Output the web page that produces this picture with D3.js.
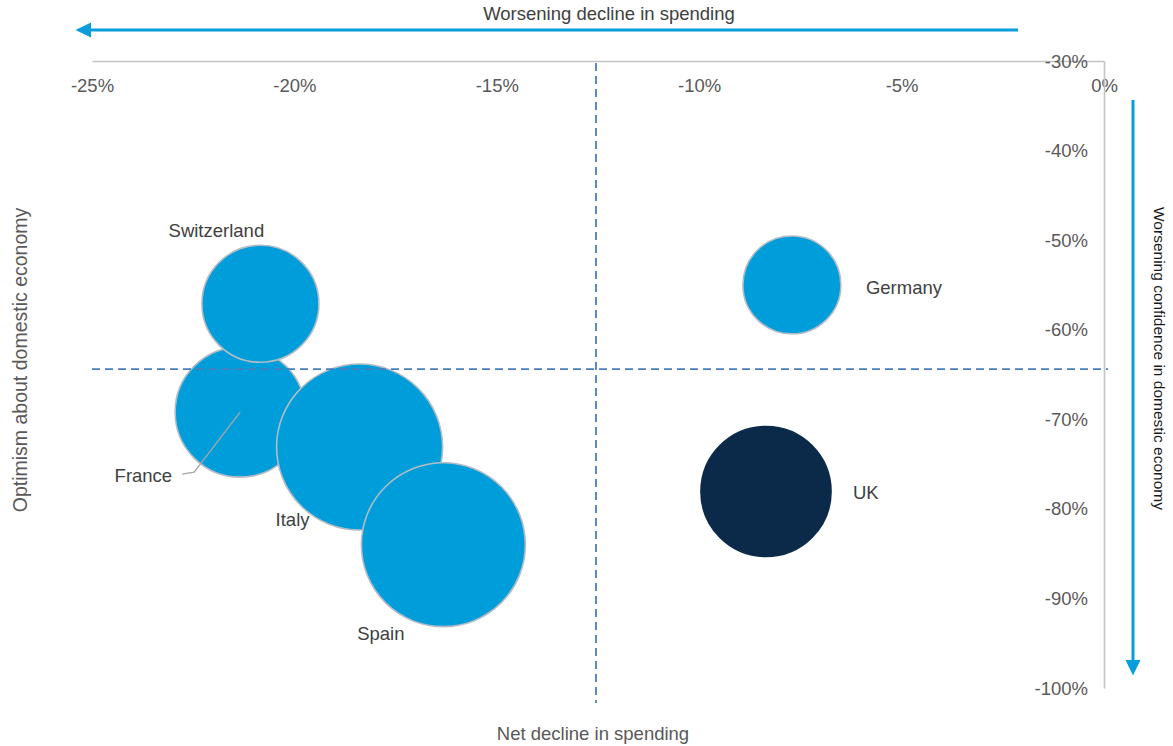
<!DOCTYPE html>
<html>
<head>
<meta charset="utf-8">
<script src="https://cdn.jsdelivr.net/npm/d3@7"></script>
<style>
  html, body { margin: 0; padding: 0; background: #fff; }
  svg { display: block; font-family: "Liberation Sans", Arial, sans-serif; }
</style>
</head>
<body>
<svg id="chart" width="1173" height="746"></svg>
<script>
// ---- data ----
const countries = ["France", "Switzerland", "Italy", "Spain", "Germany", "UK"];
const spendingDecline = [-21.34, -20.84, -18.39, -16.32, -7.71, -8.35];   // x, %
const economyConfidence = [-69.2, -57.1, -73.1, -84.0, -55.0, -78.06];    // y, %
const bubbleSize = [42.3, 34.2, 68.9, 67.2, 24.0, 42.3];                   // relative area
const highlight = ["UK"];
const xTicks = [-25, -20, -15, -10, -5, 0];
const yTicks = [-30, -40, -50, -60, -70, -80, -90, -100];
const avgSpending = -12.55;
const avgConfidence = -64.39;

// ---- layout ----
const svg = d3.select("#chart");
const x = d3.scaleLinear().domain([-25, 0]).range([92, 1104]);
const y = d3.scaleLinear().domain([-30, -100]).range([61, 688]);
const r = d3.scaleSqrt().domain([0, 100]).range([0, 100]);
const FS = "18.5px";

const data = countries.map((c, i) => ({
  name: c, x: spendingDecline[i], y: economyConfidence[i], s: bubbleSize[i]
}));

// axes
const fmt = d => d + "%";
const xAxis = svg.append("g").attr("transform", `translate(0,${y(-30)})`)
  .call(d3.axisBottom(x).tickValues(xTicks).tickFormat(fmt).tickSize(0).tickSizeOuter(0).tickPadding(0));
const yAxis = svg.append("g").attr("transform", `translate(${x(0)},0)`)
  .call(d3.axisLeft(y).tickValues(yTicks).tickFormat(fmt).tickSize(0).tickSizeOuter(0).tickPadding(16));
[xAxis, yAxis].forEach(g => {
  g.select(".domain").attr("stroke", "#c4c4c4").attr("stroke-width", 1.6);
  g.selectAll("text").attr("fill", "#595959").style("font-size", FS)
    .style("font-family", '"Liberation Sans", Arial, sans-serif');
});
xAxis.selectAll("text").attr("y", 31).attr("dy", 0);
yAxis.selectAll("text").attr("dy", "0.33em");

// bubbles
const bubbles = svg.append("g");
bubbles.selectAll("circle").data(data).join("circle")
  .attr("cx", d => x(d.x)).attr("cy", d => y(d.y)).attr("r", d => r(d.s))
  .attr("fill", d => highlight.includes(d.name) ? "#0b2a49" : "#009ddb")
  .attr("stroke", d => highlight.includes(d.name) ? "#0b2a49" : "#b3bcc5")
  .attr("stroke-width", 1.6);

// France leader line
const fr = data.find(d => d.name === "France");
svg.append("polyline")
  .attr("points", [[x(fr.x), y(fr.y)], [x(fr.x) - 46, y(fr.y) + 60], [x(fr.x) - 58, y(fr.y) + 62]].map(p => p.join(",")).join(" "))
  .attr("fill", "none").attr("stroke", "#a6a6a6").attr("stroke-width", 1.4);

// labels
const labelPos = {
  "Switzerland": { dx: -44, dy: -66.5, anchor: "middle" },
  "France": { dx: -68, dy: 70, anchor: "end" },
  "Italy": { dx: -67, dy: 79, anchor: "middle" },
  "Spain": { dx: -62.5, dy: 95, anchor: "middle" },
  "Germany": { dx: 74, dy: 9, anchor: "start" },
  "UK": { dx: 87, dy: 7.5, anchor: "start" }
};
svg.append("g").selectAll("text").data(data).join("text")
  .attr("x", d => x(d.x) + labelPos[d.name].dx)
  .attr("y", d => y(d.y) + labelPos[d.name].dy)
  .attr("text-anchor", d => labelPos[d.name].anchor)
  .attr("fill", "#404040").style("font-size", FS)
  .text(d => d.name);

// average dashed lines
const dash = svg.append("g").attr("stroke", "#4a7ebb").attr("stroke-width", 1.8)
  .attr("stroke-dasharray", "8,5").attr("fill", "none");
dash.append("line").attr("x1", x(avgSpending)).attr("x2", x(avgSpending))
  .attr("y1", y(-30) + 2).attr("y2", y(-100) + 15);
dash.append("line").attr("x1", x(-25)).attr("x2", x(0) + 4)
  .attr("y1", y(avgConfidence)).attr("y2", y(avgConfidence));

// arrows
const blue = "#0a9ddb";
const defs = svg.append("defs");
// top arrow
svg.append("line").attr("x1", 1018).attr("x2", 88).attr("y1", 30).attr("y2", 30)
  .attr("stroke", blue).attr("stroke-width", 3);
svg.append("path").attr("d", "M75.5,30 L91,22.5 L91,37.5 Z").attr("fill", blue);
// right arrow
svg.append("line").attr("x1", 1133).attr("x2", 1133).attr("y1", 100).attr("y2", 662)
  .attr("stroke", blue).attr("stroke-width", 3);
svg.append("path").attr("d", "M1133,675.5 L1125.5,660 L1140.5,660 Z").attr("fill", blue);

// axis titles
svg.append("text").attr("x", 609).attr("y", 20).attr("text-anchor", "middle")
  .attr("fill", "#404040").style("font-size", FS).text("Worsening decline in spending");
svg.append("text").attr("x", 593).attr("y", 740).attr("text-anchor", "middle")
  .attr("fill", "#595959").style("font-size", FS).text("Net decline in spending");
svg.append("text").attr("transform", "translate(27,360) rotate(-90)").attr("text-anchor", "middle")
  .attr("fill", "#595959").style("font-size", "19.5px").text("Optimism about domestic economy");
svg.append("text").attr("transform", "translate(1154,358.5) rotate(90)").attr("text-anchor", "middle")
  .attr("fill", "#1a1a1a").style("font-size", "15.5px").text("Worsening confidence in domestic economy");
</script>
</body>
</html>
